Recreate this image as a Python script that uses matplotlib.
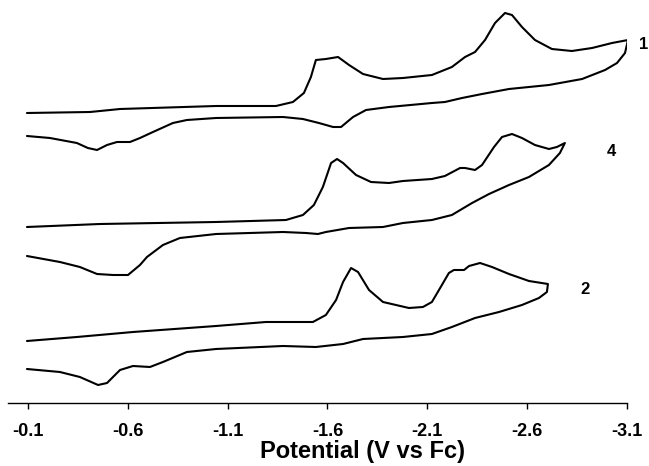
import matplotlib
matplotlib.use("Agg")
import matplotlib.pyplot as plt

# ----------------------------
# Data (potential in V vs Fc, current in arbitrary units,
# curves already offset vertically as in the figure)
# ----------------------------

# compound 1: forward (cathodic) sweep, then return sweep
e_1 = [-0.095, -0.411, -0.561, -1.042, -1.342, -1.427, -1.482, -1.517, -1.542, -1.592,
       -1.653, -1.708, -1.778, -1.878, -1.978, -2.123, -2.223, -2.289, -2.339, -2.389,
       -2.439, -2.489, -2.524, -2.574, -2.639, -2.724, -2.824, -2.925, -3.025, -3.105,
       -3.090, -3.050, -2.990, -2.875, -2.709, -2.509, -2.374, -2.274, -2.188, -2.123,
       -1.908, -1.793, -1.728, -1.668, -1.628, -1.557, -1.477, -1.377, -1.042, -0.896,
       -0.826, -0.726, -0.661, -0.611, -0.546, -0.496, -0.446, -0.400, -0.345, -0.210,
       -0.095]
i_1 = [290, 291, 294, 297, 297, 301, 310, 326, 343, 344,
       346, 338, 329, 324, 325, 328, 336, 346, 351, 363,
       380, 390, 388, 376, 363, 354, 352, 355, 360, 363,
       350, 340, 333, 324, 318, 314, 309, 305, 301, 300,
       296, 293, 286, 276, 276, 280, 284, 286, 285, 283,
       280, 271, 265, 261, 261, 258, 253, 255, 260, 265,
       267]

# compound 4
e_4 = [-0.095, -0.461, -1.042, -1.392, -1.477, -1.532, -1.577, -1.618, -1.648, -1.678,
       -1.743, -1.818, -1.908, -1.978, -2.123, -2.188, -2.264, -2.289, -2.339, -2.374,
       -2.434, -2.474, -2.524, -2.574, -2.639, -2.709, -2.749, -2.789,
       -2.764, -2.709, -2.609, -2.509, -2.409, -2.324, -2.223, -2.123, -1.978, -1.878,
       -1.708, -1.592, -1.552, -1.492, -1.377, -1.042, -0.861, -0.776, -0.696, -0.661,
       -0.601, -0.526, -0.446, -0.360, -0.260, -0.095]
i_4 = [176, 179, 181, 183, 188, 198, 216, 240, 244, 240,
       228, 221, 220, 222, 224, 227, 235, 235, 233, 238,
       256, 266, 269, 265, 258, 254, 256, 260,
       250, 238, 226, 218, 209, 200, 188, 183, 180, 176,
       175, 171, 169, 170, 171, 169, 165, 158, 146, 138,
       128, 128, 129, 136, 141, 147]

# compound 2
e_2 = [-0.095, -0.345, -0.626, -1.042, -1.292, -1.527, -1.592, -1.643, -1.678, -1.718,
       -1.753, -1.808, -1.878, -2.008, -2.078, -2.123, -2.173, -2.208, -2.233, -2.284,
       -2.309, -2.364, -2.424, -2.509, -2.609, -2.704,
       -2.699, -2.659, -2.574, -2.459, -2.339, -2.223, -2.123, -1.978, -1.778, -1.678,
       -1.542, -1.377, -1.042, -0.896, -0.776, -0.711, -0.626, -0.561, -0.496, -0.451,
       -0.360, -0.260, -0.095]
i_2 = [62, 66, 71, 77, 81, 81, 88, 103, 121, 135,
       131, 113, 101, 95, 96, 101, 118, 130, 133, 133,
       137, 140, 136, 129, 122, 119,
       111, 105, 98, 91, 85, 76, 69, 66, 64, 59,
       56, 57, 54, 51, 41, 36, 37, 33, 20, 18,
       26, 31, 34]

curves = {"1": (e_1, i_1), "4": (e_4, i_4), "2": (e_2, i_2)}
label_pos = {"1": (-3.185, 358), "4": (-3.020, 251), "2": (-2.890, 113)}

tick_values = [-0.1, -0.6, -1.1, -1.6, -2.1, -2.6, -3.1]
tick_labels = ["-0.1", "-0.6", "-1.1", "-1.6", "-2.1", "-2.6", "-3.1"]

# ----------------------------
# Plot
# ----------------------------

plt.rcParams['font.family'] = ['Liberation Sans', 'DejaVu Sans']

fig = plt.figure(figsize=(6.49, 4.66), dpi=100)
ax = fig.add_axes([0.0123, 0.1352, 0.9538, 0.8648])

for name, (e, i) in curves.items():
    ax.plot(e, i, color='black', lw=1.5, solid_joinstyle='round', solid_capstyle='round')
    x, y = label_pos[name]
    ax.text(x, y, name, fontsize=12, fontweight='bold', ha='center', va='center', clip_on=False)

ax.set_xlim(0.0, -3.1)
ax.set_ylim(0, 403)

for side in ['top', 'right', 'left']:
    ax.spines[side].set_visible(False)
ax.spines['bottom'].set_linewidth(1.0)

ax.set_yticks([])
ax.set_xticks(tick_values)
ax.set_xticklabels(tick_labels, fontsize=13, fontweight='bold')
ax.tick_params(axis='x', direction='out', length=4.5, width=1.0, pad=10)
ax.set_xlabel("Potential (V vs Fc)", fontsize=17, fontweight='bold')
# the label sits a little right of the axis centre in the original
ax.xaxis.set_label_coords(0.573, -0.092)

fig.savefig("out.png", dpi=100)
